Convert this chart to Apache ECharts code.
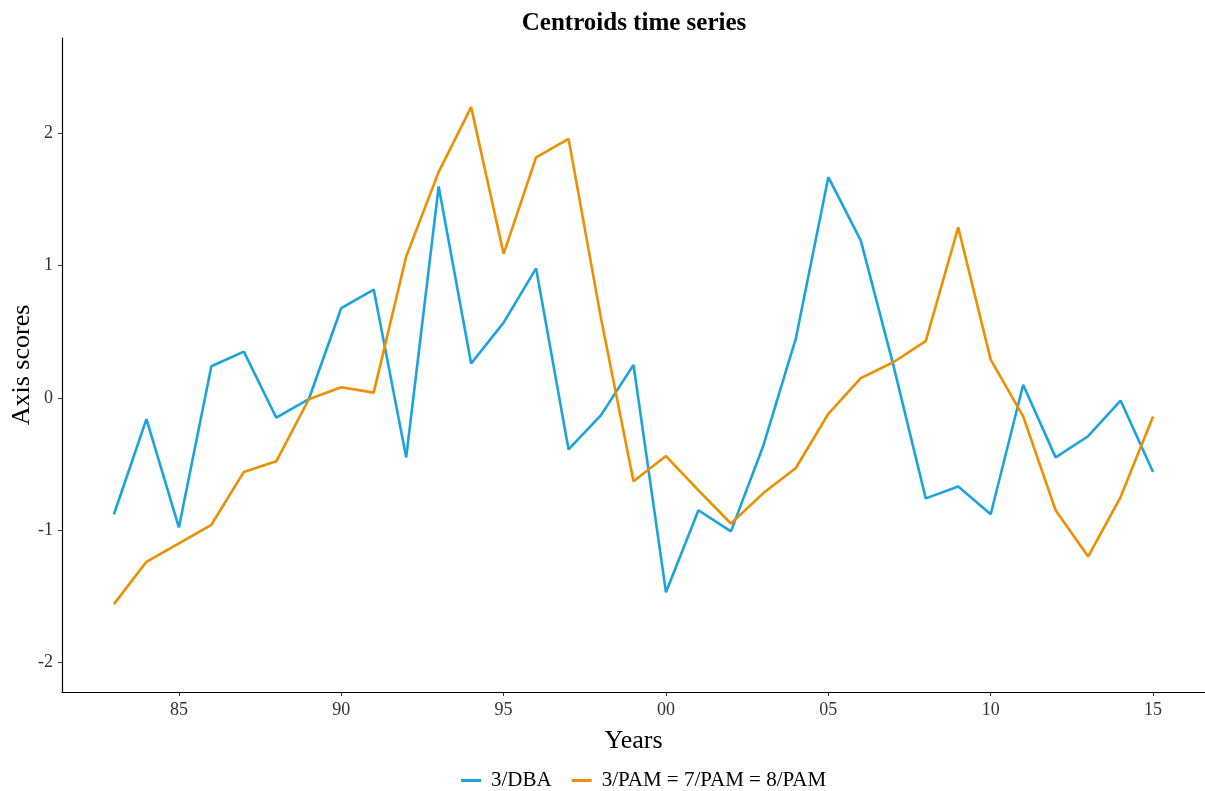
<!DOCTYPE html>
<html>
<head>
<meta charset="utf-8">
<title>Centroids time series</title>
<script src="https://cdn.jsdelivr.net/npm/echarts@6/dist/echarts.min.js"></script>
<style>
  html, body { margin: 0; padding: 0; background: #fff; }
  #chart { width: 1205px; height: 791px; }
</style>
</head>
<body>
<div id="chart"></div>
<script>
// Years 1983–2015
const years = [1983, 1984, 1985, 1986, 1987, 1988, 1989, 1990, 1991, 1992, 1993,
               1994, 1995, 1996, 1997, 1998, 1999, 2000, 2001, 2002, 2003, 2004,
               2005, 2006, 2007, 2008, 2009, 2010, 2011, 2012, 2013, 2014, 2015];

// Centroid axis scores per classification
const dba3 = [-0.88, -0.16, -0.98, 0.24, 0.35, -0.15, -0.01, 0.68, 0.82, -0.45, 1.60,
              0.26, 0.57, 0.98, -0.39, -0.13, 0.25, -1.47, -0.85, -1.01, -0.36, 0.45,
              1.67, 1.19, 0.25, -0.76, -0.67, -0.88, 0.10, -0.45, -0.29, -0.02, -0.56];

const pam = [-1.56, -1.24, -1.10, -0.96, -0.56, -0.48, -0.01, 0.08, 0.04, 1.07, 1.71,
             2.20, 1.09, 1.82, 1.96, 0.60, -0.63, -0.44, -0.70, -0.95, -0.72, -0.53,
             -0.12, 0.15, 0.27, 0.43, 1.29, 0.29, -0.14, -0.85, -1.20, -0.75, -0.14];

const seriesNames = ['3/DBA', '3/PAM = 7/PAM = 8/PAM'];
const xTicks = [1985, 1990, 1995, 2000, 2005, 2010, 2015];
const yTicks = [-2, -1, 0, 1, 2];

const FONT = "'Liberation Serif', 'Times New Roman', serif";
const COLORS = ['#1AA3DF', '#EF8E00'];

const pairs = vals => years.map((y, i) => [y, vals[i]]);

const chart = echarts.init(document.getElementById('chart'), null, { renderer: 'canvas' });

chart.setOption({
  backgroundColor: '#ffffff',
  animation: false,
  title: {
    text: 'Centroids time series',
    left: 629,
    textAlign: 'center',
    top: 6,
    textStyle: { fontFamily: FONT, fontSize: 25, fontWeight: 'bold', color: '#000' }
  },
  legend: {
    data: seriesNames,
    left: 456,
    top: 765,
    itemWidth: 20,
    itemHeight: 3,
    itemGap: 20,
    icon: 'rect',
    textStyle: { fontFamily: FONT, fontSize: 21, color: '#000', padding: [0, 0, 0, 5] }
  },
  grid: { left: 62, right: 0, top: 38, bottom: 99, containLabel: false, outerBoundsMode: 'none' },
  xAxis: {
    type: 'value',
    min: 1981.4,
    max: 2016.6,
    name: 'Years',
    nameLocation: 'middle',
    nameGap: 36,
    nameMoveOverlap: false,
    nameTextStyle: { fontFamily: FONT, fontSize: 26, color: '#000' },
    axisLine: { show: true, onZero: false, lineStyle: { color: '#000', width: 1.2 } },
    axisTick: { show: true, customValues: xTicks, length: 4, lineStyle: { color: '#333' } },
    axisLabel: {
      customValues: xTicks,
      margin: 9,
      fontFamily: FONT, fontSize: 18, color: '#333',
      formatter: v => String(v % 100).padStart(2, '0')
    },
    splitLine: { show: false }
  },
  yAxis: {
    type: 'value',
    min: -2.225,
    max: 2.723,
    name: 'Axis scores',
    nameLocation: 'middle',
    nameRotate: 90,
    nameGap: 27,
    nameMoveOverlap: false,
    nameTextStyle: { fontFamily: FONT, fontSize: 26, color: '#000' },
    axisLine: { show: true, onZero: false, lineStyle: { color: '#000', width: 1.2 } },
    axisTick: { show: true, customValues: yTicks, length: 4, lineStyle: { color: '#333' } },
    axisLabel: {
      customValues: yTicks,
      margin: 9,
      fontFamily: FONT, fontSize: 18, color: '#333',
      formatter: v => String(v)
    },
    splitLine: { show: false }
  },
  series: [
    {
      name: seriesNames[0],
      type: 'line',
      data: pairs(dba3),
      showSymbol: false,
      lineStyle: { color: COLORS[0], width: 2.6 },
      itemStyle: { color: COLORS[0] }
    },
    {
      name: seriesNames[1],
      type: 'line',
      data: pairs(pam),
      showSymbol: false,
      lineStyle: { color: COLORS[1], width: 2.6 },
      itemStyle: { color: COLORS[1] }
    }
  ]
});
</script>
</body>
</html>
